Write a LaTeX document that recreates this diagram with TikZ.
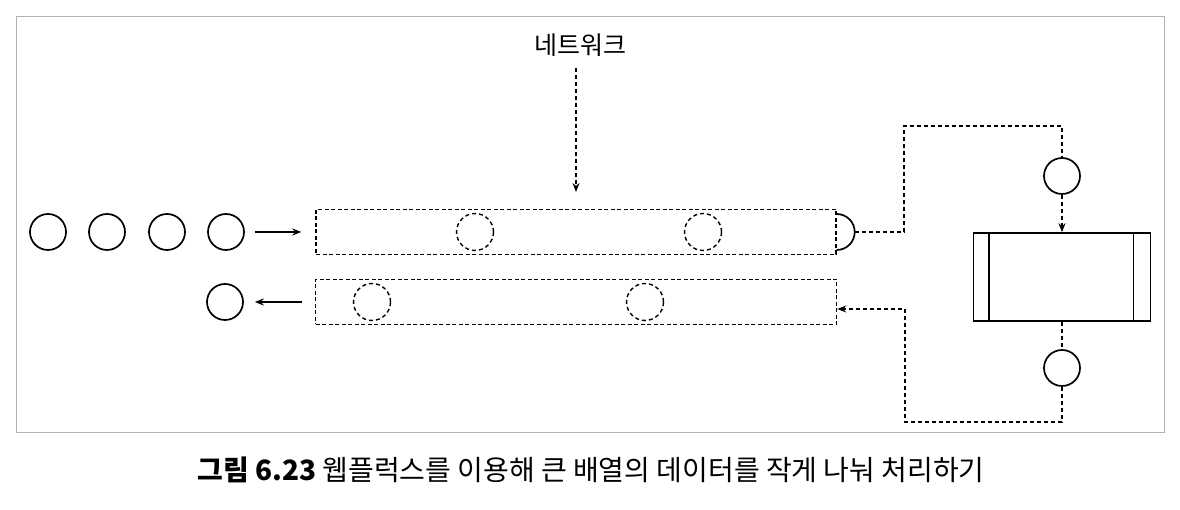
\documentclass[tikz,border=0pt]{standalone}
\usepackage{fontspec}
\setmainfont{Noto Sans CJK KR}
\usetikzlibrary{arrows.meta, positioning, calc}

\tikzset{
  item/.style={circle, draw, line width=1.7pt, minimum size=36pt, inner sep=0pt},
  ghost/.style={circle, draw, line width=1.4pt, dash pattern=on 4pt off 3pt, minimum size=37pt, inner sep=0pt},
  pipe/.style={draw, line width=1.4pt, dash pattern=on 4pt off 2.5pt, minimum height=45pt, inner sep=0pt},
  flow/.style={line width=1.4pt, dash pattern=on 4pt off 3pt},
  tip/.style={-{Stealth[length=9pt,width=7pt]}}
}

\begin{document}
\begin{tikzpicture}[x=1pt,y=1pt]
  \useasboundingbox (0,0) rectangle (1180,510);

  % Frame
  \draw[gray!60, line width=0.8pt] (16,78) rectangle (1164,494);

  % Network pipes
  \node[pipe, minimum width=520pt] (up) at (576,278) {};
  \node[pipe, minimum width=521pt] (down) at (576,208) {};

  % Network label
  \node[font=\fontsize{25}{29}\selectfont] (net) at (580,465) {네트워크};
  \coordinate (netin) at (576,318);
  \draw[flow, tip, shorten <=8pt] (net.south -| netin) -- (netin);

  % Data coming in
  \foreach \i/\x in {1/48, 2/107, 3/167, 4/226}
    \node[item] (in\i) at (\x,278) {};
  \draw[tip, line width=1.6pt, shorten <=10pt, shorten >=14pt] (in4.east) -- (up.west);

  % Data in the pipes
  \node[ghost] (u1) at (475,278) {};
  \node[ghost] (u2) at (703,278) {};
  \node[ghost] (d1) at (372,208) {};
  \node[ghost] (d2) at (645,208) {};

  % Data going out
  \node[item] (out) at (225,208) {};
  \draw[tip, line width=1.6pt, shorten <=13pt, shorten >=11pt] (down.west) -- (out.east);

  % Pipe end
  \draw[line width=1.7pt] ([yshift=18pt]up.east) arc[start angle=90, end angle=-90, radius=18pt];
  \coordinate (capr) at ($(up.east)+(18,0)$);

  % Worker
  \node[draw, line width=1.7pt, minimum width=177pt, minimum height=88pt] (worker) at (1062,233) {};
  \draw[line width=1.7pt] ([xshift=16pt]worker.north west) -- ([xshift=16pt]worker.south west);
  \draw[line width=1.7pt] ([xshift=-18pt]worker.north east) -- ([xshift=-18pt]worker.south east);

  \node[item] (req) at (1062,334) {};
  \node[item] (res) at (1062,142) {};

  % Round trip
  \coordinate (turnA) at (904,384);
  \coordinate (turnB) at (905,88);
  \draw[flow] (capr) -| (turnA) -| (req.north);
  \draw[flow, tip] (req.south) -- (worker.north);
  \draw[flow] (worker.south) -- (res.north);
  \draw[flow, tip] (res.south) |- (turnB) |- ([yshift=-7pt]down.east);

  % Caption
  \node[font=\fontsize{28}{32}\selectfont] (caption) at (591,40) {\textbf{그림 6.23} 웹플럭스를 이용해 큰 배열의 데이터를 작게 나눠 처리하기};
\end{tikzpicture}
\end{document}
